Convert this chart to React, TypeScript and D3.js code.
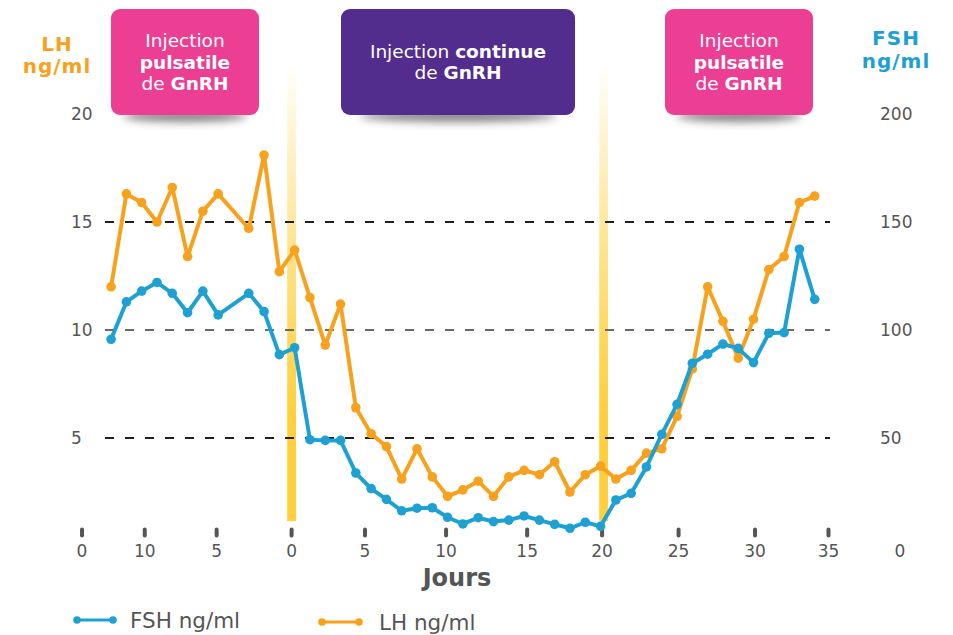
import * as d3 from 'd3'

// jours relatifs (0 = début injection continue, 20 = retour pulsatile)
const days = [
  -12, -11, -10, -9, -8, -7, -6, -5, -3, -2, -1, 0, 1, 2, 3, 4, 5, 6, 7, 8, 9, 10, 11, 12, 13, 14, 15, 16, 17,
  18, 19, 20, 21, 22, 23, 24, 25, 26, 27, 28, 29, 30, 31, 32, 33, 34,
]
const lhValues = [
  12.0, 16.3, 15.9, 15.0, 16.6, 13.4, 15.5, 16.3, 14.7, 18.1, 12.7, 13.7, 11.5, 9.3, 11.2, 6.4, 5.2, 4.6, 3.1,
  4.5, 3.2, 2.3, 2.6, 3.0, 2.3, 3.2, 3.5, 3.3, 3.9, 2.5, 3.3, 3.7, 3.1, 3.5, 4.3, 4.5, 6.0, 8.2, 12.0, 10.4,
  8.7, 10.5, 12.8, 13.4, 15.9, 16.2,
]
const fshValues = [
  95.7, 113, 118, 122, 117, 108, 118, 107, 117, 108.5, 88.6, 91.8, 49.2, 48.9, 48.9, 33.8, 26.6, 21.6, 16.3,
  17.5, 17.7, 13.3, 10.2, 13.1, 11.3, 12.0, 13.9, 12.0, 10.0, 8.2, 11.0, 9.1, 21.3, 24.4, 36.6, 51.7, 65.6,
  84.6, 88.8, 93.5, 91.5, 84.9, 98.5, 98.8, 137.4, 114.2,
]

// tick positions as they sit in the picture (slightly off the data grid)
const xTickDays = [-13.9, -9.8, -5.1, -0.2, 4.6, 9.9, 15.2, 20.1, 25.1, 30.1, 34.9]
const xTickLabels = ['0', '10', '5', '0', '5', '10', '15', '20', '25', '30', '35']
const lhTicks = [20, 15, 10, 5]
const fshTicks = [200, 150, 100, 50]
const gridValues = [15, 10, 5]
const injectionDays = [-0.2, 20.2]

type Seg = { t: string; b?: boolean }
const boxLines: Seg[][][] = [
  [[{ t: 'Injection' }], [{ t: 'pulsatile', b: true }], [{ t: 'de ' }, { t: 'GnRH', b: true }]],
  [[{ t: 'Injection ' }, { t: 'continue', b: true }], [{ t: 'de ' }, { t: 'GnRH', b: true }]],
  [[{ t: 'Injection' }], [{ t: 'pulsatile', b: true }], [{ t: 'de ' }, { t: 'GnRH', b: true }]],
]

const FSH_COLOR = '#1ea1d2'
const LH_COLOR = '#f7a11d'
const GREY = '#555'
const FONT = '"DejaVu Sans", Verdana, sans-serif'

export default function App() {
  const W = 953
  const H = 635

  const x = d3.scaleLinear().domain([-14, 35]).range([80.5, 830])
  const yLH = d3.scaleLinear().domain([0, 20]).range([546, 114])
  const yFSH = d3.scaleLinear().domain([0, 200]).range([546, 114])

  const lhPts = days.map((d, i) => [x(d), yLH(lhValues[i])] as [number, number])
  const fshPts = days.map((d, i) => [x(d), yFSH(fshValues[i])] as [number, number])
  const line = d3.line()

  const boxes = [
    { x0: 111, x1: 259, fill: '#ec3e93' },
    { x0: 341, x1: 575, fill: '#522d8e' },
    { x0: 665, x1: 813, fill: '#ec3e93' },
  ]

  return (
    <svg
      width={W}
      height={H}
      style={{ position: 'absolute', left: 0, top: 0, fontFamily: FONT }}
    >
      <defs>
        <linearGradient id="barGrad" x1="0" y1="0" x2="0" y2="1">
          <stop offset="0%" stopColor="#ffd13f" stopOpacity={0} />
          <stop offset="35%" stopColor="#ffd13f" stopOpacity={0.5} />
          <stop offset="60%" stopColor="#ffd13f" stopOpacity={0.85} />
          <stop offset="78%" stopColor="#ffcf3c" stopOpacity={1} />
          <stop offset="100%" stopColor="#ffcf3c" stopOpacity={1} />
        </linearGradient>
        <filter id="shadow" x="-50%" y="-200%" width="200%" height="500%">
          <feGaussianBlur stdDeviation="4.5" />
        </filter>
      </defs>

      {/* injection markers */}
      {injectionDays.map((d) => (
        <rect
          key={d}
          x={x(d) - 4.4}
          y={yLH(22.5)}
          width={8.8}
          height={yLH(1.15) - yLH(22.5)}
          fill="url(#barGrad)"
        />
      ))}

      {/* grid */}
      {gridValues.map((v) => (
        <line
          key={v}
          x1={105}
          x2={830}
          y1={yLH(v)}
          y2={yLH(v)}
          stroke={v === 10 ? '#6a6a6a' : '#1e1e1e'}
          strokeWidth={2}
          strokeDasharray="9 11"
        />
      ))}

      {/* boxes */}
      {boxes.map((b, bi) => {
        const cx = (b.x0 + b.x1) / 2
        const lines = boxLines[bi]
        const lh = 21.5
        const firstBase = 62 - ((lines.length - 1) * lh) / 2 + 6.5
        return (
          <g key={bi}>
            <ellipse
              cx={cx}
              cy={116}
              rx={(b.x1 - b.x0) * 0.42}
              ry={6}
              fill="#333"
              opacity={0.6}
              filter="url(#shadow)"
            />
            <rect x={b.x0} y={9} width={b.x1 - b.x0} height={106} rx={9} fill={b.fill} />
            {lines.map((segs, li) => (
              <text
                key={li}
                x={cx}
                y={firstBase + li * lh}
                textAnchor="middle"
                fill="#fff"
                fontSize={18.5}
              >
                {segs.map((s, si) => (
                  <tspan key={si} fontWeight={s.b ? 'bold' : 'normal'}>
                    {s.t}
                  </tspan>
                ))}
              </text>
            ))}
          </g>
        )
      })}

      {/* axis titles */}
      <g fontWeight="bold" fontSize={20} textAnchor="middle" letterSpacing={1}>
        <text x={57} y={51} fill={LH_COLOR}>LH</text>
        <text x={57} y={73} fill={LH_COLOR}>ng/ml</text>
        <text x={896} y={45} fill={FSH_COLOR}>FSH</text>
        <text x={896} y={68} fill={FSH_COLOR}>ng/ml</text>
      </g>

      {/* y tick labels */}
      {lhTicks.map((v) => (
        <text key={v} x={71} y={yLH(v) + 6} fontSize={17} fill={GREY}>
          {v}
        </text>
      ))}
      {fshTicks.map((v) => (
        <text key={v} x={880} y={yFSH(v) + 6} fontSize={17} fill={GREY}>
          {v}
        </text>
      ))}
      <text x={900} y={557} fontSize={17} fill={GREY} textAnchor="middle">
        0
      </text>

      {/* x axis */}
      {xTickDays.map((d, i) => (
        <g key={i} transform={`translate(${x(d)},0)`}>
          <rect x={-2} y={527.5} width={4} height={10} rx={2} fill={GREY} />
          <text y={557} textAnchor="middle" fontSize={17} fill={GREY}>
            {xTickLabels[i]}
          </text>
        </g>
      ))}
      <text x={457} y={586} textAnchor="middle" fontWeight="bold" fontSize={24} fill={GREY}>
        Jours
      </text>

      {/* series */}
      <path d={line(lhPts) ?? ''} fill="none" stroke={LH_COLOR} strokeWidth={4} strokeLinejoin="round" />
      {lhPts.map((p, i) => (
        <circle key={i} cx={p[0]} cy={p[1]} r={4.8} fill={LH_COLOR} />
      ))}
      <path d={line(fshPts) ?? ''} fill="none" stroke={FSH_COLOR} strokeWidth={4} strokeLinejoin="round" />
      {fshPts.map((p, i) => (
        <circle key={i} cx={p[0]} cy={p[1]} r={4.8} fill={FSH_COLOR} />
      ))}

      {/* legend */}
      <g>
        <line x1={77} x2={113} y1={620} y2={620} stroke={FSH_COLOR} strokeWidth={3} />
        <circle cx={77} cy={620} r={3.8} fill={FSH_COLOR} />
        <circle cx={113} cy={620} r={3.8} fill={FSH_COLOR} />
        <text x={130} y={628} fontSize={21.5} fill={GREY}>FSH ng/ml</text>
        <line x1={322} x2={359} y1={622} y2={622} stroke={LH_COLOR} strokeWidth={3} />
        <circle cx={322} cy={622} r={3.8} fill={LH_COLOR} />
        <circle cx={359} cy={622} r={3.8} fill={LH_COLOR} />
        <text x={379} y={630} fontSize={21.5} fill={GREY}>LH ng/ml</text>
      </g>
    </svg>
  )
}
